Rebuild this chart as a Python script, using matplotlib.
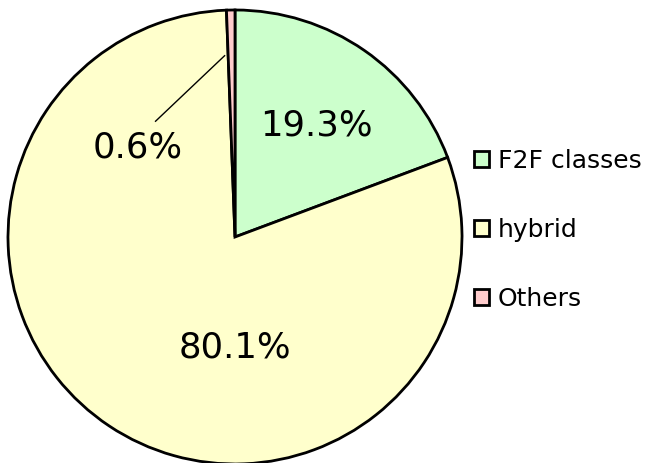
import numpy as np
import matplotlib.pyplot as plt

labels = ['F2F classes', 'hybrid', 'Others']
shares = [19.3, 80.1, 0.6]
colors = ['#CCFFCC', '#FFFFCC', '#FFCCCC']

# label positions in pie units (radius = 1)
label_pos = [(0.36, 0.49), (0.0, -0.485), (-0.43, 0.395)]

fig = plt.figure(figsize=(6.46, 4.63), dpi=100)
ax = fig.add_axes([8 / 646, -1 / 463, 454 / 646, 454 / 463])

wedges, _ = ax.pie(shares, colors=colors, startangle=90, counterclock=False,
                   radius=1.0,
                   wedgeprops=dict(edgecolor='black', linewidth=2.0))
ax.set_xlim(-1, 1)
ax.set_ylim(-1, 1)
ax.set_aspect('equal')

for (x, y), v in zip(label_pos, shares):
    ax.text(x, y, f'{v:.1f}%', ha='center', va='center', fontsize=25.5)

# leader line for the small slice
w = wedges[2]
mid = np.deg2rad((w.theta1 + w.theta2) / 2 + 2.2)
ax.plot([0.8 * np.cos(mid), -0.35], [0.8 * np.sin(mid), 0.51],
        color='black', linewidth=1.0)

leg = fig.legend(wedges, labels, loc='center left', bbox_to_anchor=(451 / 646, 1 - 230 / 463),
                 frameon=False, fontsize=18, handlelength=0.6, handleheight=0.6,
                 handletextpad=0.36, labelspacing=1.8)

fig.savefig('out.png', dpi=100)
